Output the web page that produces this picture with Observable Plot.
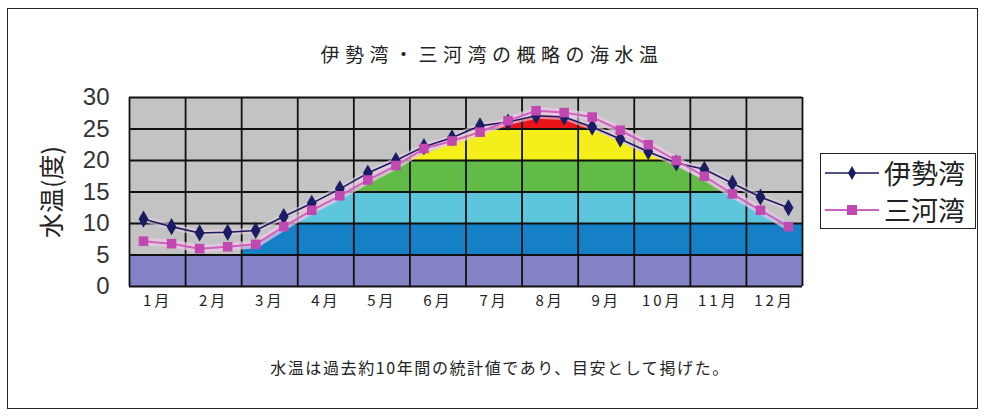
<!DOCTYPE html>
<html><head><meta charset="utf-8">
<script src="https://cdn.jsdelivr.net/npm/d3@7"></script>
<script src="https://cdn.jsdelivr.net/npm/@observablehq/plot@0.6"></script>
<style>
html,body{margin:0;padding:0;background:#fff;}
#wrap{position:relative;width:984px;height:417px;overflow:hidden;font-family:"Noto Sans CJK JP",sans-serif;}
#frame{position:absolute;left:7px;top:8px;width:971px;height:401px;border:1px solid #222;box-sizing:border-box;}
#title{position:absolute;left:0;width:984px;top:42px;text-align:center;font-size:19px;letter-spacing:5.5px;color:#222;line-height:24px;}
#caption{position:absolute;left:0;width:1000px;top:356px;text-align:center;font-size:16px;letter-spacing:1.6px;color:#222;line-height:22px;}
#legend{position:absolute;left:820px;top:153px;width:156px;height:76px;border:1.5px solid #222;box-sizing:border-box;background:#fff;}
.lg{position:absolute;left:4px;height:36px;display:flex;align-items:center;}
.lg span{font-size:27px;color:#222;margin-left:5px;line-height:36px;}
svg.chart{position:absolute;left:0;top:0;}
svg.chart g[aria-label="x-axis tick label"] text{letter-spacing:3px;}
</style></head>
<body><div id="wrap">
<div id="frame"></div>
<div id="title">伊勢湾・三河湾の概略の海水温</div>
<div id="caption">水温は過去約10年間の統計値であり、目安として掲げた。</div>
<div id="legend">
  <div class="lg" style="top:1px"><svg width="54" height="20"><line x1="0" y1="10" x2="54" y2="10" stroke="#1c1c5c" stroke-width="1.6"/><path d="M27,3 L31,10 L27,17 L23,10 Z" fill="#1c1c64"/></svg><span>伊勢湾</span></div>
  <div class="lg" style="top:38px"><svg width="54" height="20"><line x1="0" y1="10" x2="54" y2="10" stroke="#d060c0" stroke-width="2"/><rect x="22" y="5" width="10" height="10" fill="#c048b0"/></svg><span>三河湾</span></div>
</div>
</div>
<script>
// month labels
const months = ["1月","2月","3月","4月","5月","6月","7月","8月","9月","10月","11月","12月"];
// half-month positions (month units, 0 = start of January)
const halfMonths = d3.range(24).map(i => 0.25 + 0.5 * i);
// 伊勢湾 water temperature (°C), two readings per month
const iseBay = [10.7, 9.5, 8.5, 8.6, 8.9, 11.1, 13.2, 15.5, 18.0, 20.0, 22.2, 23.6,
                25.5, 26.1, 27.1, 26.9, 25.3, 23.4, 21.4, 19.6, 18.6, 16.4, 14.2, 12.5];
// 三河湾 water temperature (°C)
const mikawaBay = [7.2, 6.8, 6.0, 6.3, 6.7, 9.5, 12.1, 14.4, 16.9, 19.2, 21.9, 23.1,
                   24.5, 26.3, 27.9, 27.6, 26.9, 24.8, 22.5, 20.0, 17.5, 14.7, 12.1, 9.5];
// upper edge of the coloured temperature-band area
const fillX   = [0, 2, 2.05, 2.25, 2.5, 2.75, 3, 3.25, 3.5, 3.75, 4, 4.25, 4.5, 4.75, 5, 5.25, 5.5, 5.75, 6, 6.25, 6.5, 6.75,
                 7, 7.25, 7.5, 7.75, 8, 8.25, 8.5, 8.75, 9, 9.25, 9.5, 9.75, 10, 10.25, 10.5, 10.75, 11, 11.25, 11.5, 11.75, 12];
const fillTop = [5, 5, 6.2, 6.4, 7.8, 9.0, 10.3, 11.5, 12.8, 14.0, 15.2, 16.4, 17.6, 18.9, 20.3, 21.0, 21.8, 22.9, 24.0, 24.8, 25.5, 26.1,
                 26.5, 26.9, 27.2, 26.9, 26.0, 25.0, 24.0, 23.0, 21.8, 21.0, 20.2, 19.1, 17.9, 17.0, 15.6, 14.3, 13.2, 12.2, 11.2, 10.2, 9.8];
// temperature band edges
const bandEdges = [0, 5, 10, 15, 20, 25, 30];
const yTicks = [0, 5, 10, 15, 20, 25, 30];
const yTitle = ["水温(度)"];

const bandColors = ["#8282c4", "#1580c6", "#5ec6dc", "#62bb46", "#f4ef1a", "#e8141a"];
const gray = "#c3c3c3";
const iseColor = "#1c1c5c", mikawaColor = "#d060c0";

const bandIdx = d3.range(bandEdges.length - 1);
const fillIdx = d3.range(fillX.length);
const ptIdx = d3.range(24);

const chart = Plot.plot({
  width: 984, height: 417,
  marginLeft: 129, marginRight: 182, marginTop: 97, marginBottom: 131,
  x: {domain: [0, 12]},
  y: {domain: [0, 30]},
  style: {fontFamily: "'Noto Sans CJK JP', sans-serif", background: "transparent", color: "#222"},
  marks: [
    Plot.rect(bandIdx, {x1: 0, x2: 12, y1: i => bandEdges[i], y2: i => bandEdges[i + 1], fill: i => bandColors[i]}),
    Plot.areaY(fillIdx, {x: i => fillX[i], y1: i => fillTop[i], y2: 30, fill: gray, curve: "monotone-x"}),
    Plot.ruleX(d3.range(0, 13), {stroke: "#111", strokeWidth: 1.8}),
    Plot.ruleY(yTicks, {stroke: "#111", strokeWidth: 1.8}),
    Plot.line(ptIdx, {x: i => halfMonths[i], y: i => iseBay[i], stroke: "#e6d0e2", strokeWidth: 6, strokeOpacity: 0.6}),
    Plot.line(ptIdx, {x: i => halfMonths[i], y: i => mikawaBay[i], stroke: "#ebcbe5", strokeWidth: 8, strokeOpacity: 0.7}),
    Plot.line(ptIdx, {x: i => halfMonths[i], y: i => iseBay[i], stroke: iseColor, strokeWidth: 1.6}),
    Plot.line(ptIdx, {x: i => halfMonths[i], y: i => mikawaBay[i], stroke: mikawaColor, strokeWidth: 2}),
    Plot.dot(ptIdx, {x: i => halfMonths[i], y: i => iseBay[i], symbol: "diamond", r: 5.2, fill: "#1c1c64", stroke: "none"}),
    Plot.dot(ptIdx, {x: i => halfMonths[i], y: i => mikawaBay[i], symbol: "square", r: 5.4, fill: "#c048b0", stroke: "none"}),
    Plot.axisY({ticks: yTicks, tickSize: 0, tickPadding: 20, fontSize: 24, fontFamily: "'Liberation Sans Narrow', 'Liberation Sans', sans-serif", fill: "#333"}),
    Plot.axisX({ticks: d3.range(0.5, 12, 1), tickFormat: d => months[Math.floor(d)], tickSize: 0, tickPadding: 9, fontSize: 15, fill: "#222"}),
    Plot.text(yTitle, {text: d => d, frameAnchor: "left", textAnchor: "middle", dx: -77, rotate: -90, fontSize: 25, fill: "#222"})
  ]
});
chart.classList.add("chart");
document.getElementById("wrap").insertBefore(chart, document.getElementById("legend"));
</script>
</body></html>
